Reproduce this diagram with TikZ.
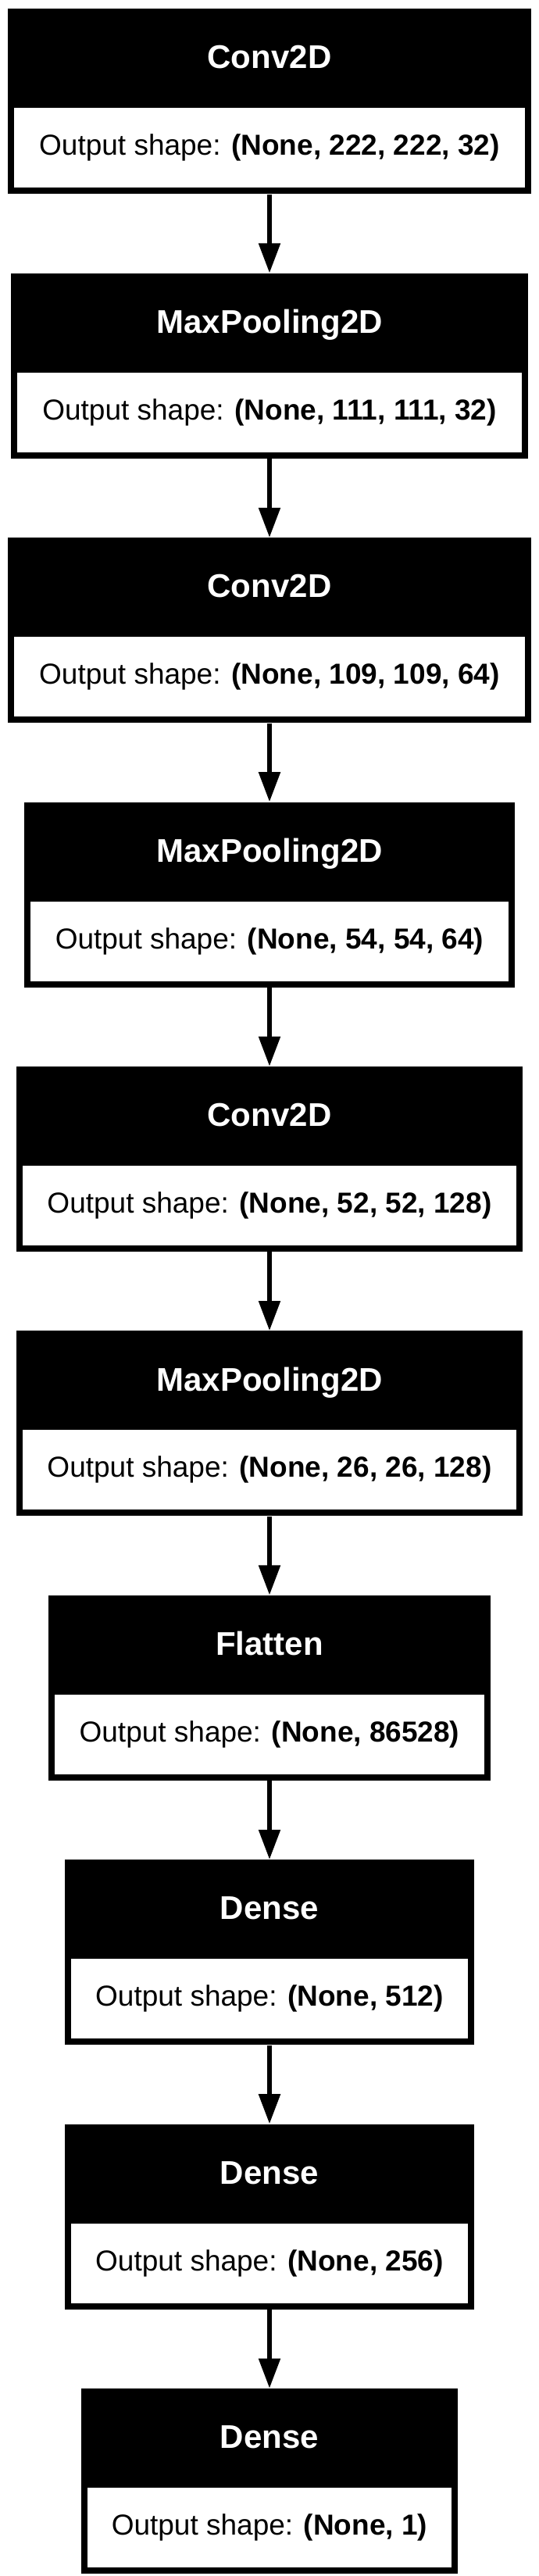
\documentclass[tikz,border=0pt]{standalone}
\usepackage{fontspec}
\setmainfont{Liberation Sans}
\usetikzlibrary{arrows.meta,positioning}

\begin{document}
\begin{tikzpicture}[
  layer/.style={rectangle, fill=black, inner sep=0pt, minimum height=118.5pt, anchor=north},
  shapecell/.style={rectangle, fill=white, inner sep=0pt, minimum height=51pt, anchor=south,
                    font=\fontsize{18.5}{22}\selectfont},
  title/.style={text=white, font=\fontsize{21}{25}\selectfont\bfseries, anchor=base, inner sep=0pt},
  arrow/.style={-{Triangle[length=19pt,width=13.5pt]}, line width=2.65pt},
  node distance=50.3pt
]
\useasboundingbox (-172.5pt,5.5pt) rectangle (172.5pt,-1643pt);

% Layer blocks
\node[layer, minimum width=335pt] (conv1) at (0,0) {};
\node[layer, minimum width=331pt, below=of conv1] (pool1) {};
\node[layer, minimum width=335pt, below=of pool1] (conv2) {};
\node[layer, minimum width=314.3pt, below=of conv2] (pool2) {};
\node[layer, minimum width=324.3pt, below=of pool2] (conv3) {};
\node[layer, minimum width=324.3pt, below=of conv3] (pool3) {};
\node[layer, minimum width=282.5pt, below=of pool3] (flat) {};
\node[layer, minimum width=262.3pt, below=of flat] (dense1) {};
\node[layer, minimum width=262.3pt, below=of dense1] (dense2) {};
\node[layer, minimum width=241pt, below=of dense2] (dense3) {};

% Layer names
\node[title] (conv1t) at ([yshift=-38.5pt]conv1.north) {Conv2D};
\node[title] (pool1t) at ([yshift=-38.5pt]pool1.north) {MaxPooling2D};
\node[title] (conv2t) at ([yshift=-38.5pt]conv2.north) {Conv2D};
\node[title] (pool2t) at ([yshift=-38.5pt]pool2.north) {MaxPooling2D};
\node[title] (conv3t) at ([yshift=-38.5pt]conv3.north) {Conv2D};
\node[title] (pool3t) at ([yshift=-38.5pt]pool3.north) {MaxPooling2D};
\node[title] (flatt) at ([yshift=-38.5pt]flat.north) {Flatten};
\node[title] (dense1t) at ([yshift=-38.5pt]dense1.north) {Dense};
\node[title] (dense2t) at ([yshift=-38.5pt]dense2.north) {Dense};
\node[title] (dense3t) at ([yshift=-38.5pt]dense3.north) {Dense};

% Output shapes
\node[shapecell, minimum width=327pt] (conv1s) at ([yshift=4pt]conv1.south) {Output shape: \textbf{(None, 222, 222, 32)}};
\node[shapecell, minimum width=323pt] (pool1s) at ([yshift=4pt]pool1.south) {Output shape: \textbf{(None, 111, 111, 32)}};
\node[shapecell, minimum width=327pt] (conv2s) at ([yshift=4pt]conv2.south) {Output shape: \textbf{(None, 109, 109, 64)}};
\node[shapecell, minimum width=306.3pt] (pool2s) at ([yshift=4pt]pool2.south) {Output shape: \textbf{(None, 54, 54, 64)}};
\node[shapecell, minimum width=316.3pt] (conv3s) at ([yshift=4pt]conv3.south) {Output shape: \textbf{(None, 52, 52, 128)}};
\node[shapecell, minimum width=316.3pt] (pool3s) at ([yshift=4pt]pool3.south) {Output shape: \textbf{(None, 26, 26, 128)}};
\node[shapecell, minimum width=274.5pt] (flats) at ([yshift=4pt]flat.south) {Output shape: \textbf{(None, 86528)}};
\node[shapecell, minimum width=254.3pt] (dense1s) at ([yshift=4pt]dense1.south) {Output shape: \textbf{(None, 512)}};
\node[shapecell, minimum width=254.3pt] (dense2s) at ([yshift=4pt]dense2.south) {Output shape: \textbf{(None, 256)}};
\node[shapecell, minimum width=233pt] (dense3s) at ([yshift=4pt]dense3.south) {Output shape: \textbf{(None, 1)}};

% Connectors
\draw[arrow] (conv1) -- (pool1);
\draw[arrow] (pool1) -- (conv2);
\draw[arrow] (conv2) -- (pool2);
\draw[arrow] (pool2) -- (conv3);
\draw[arrow] (conv3) -- (pool3);
\draw[arrow] (pool3) -- (flat);
\draw[arrow] (flat) -- (dense1);
\draw[arrow] (dense1) -- (dense2);
\draw[arrow] (dense2) -- (dense3);

\end{tikzpicture}
\end{document}
